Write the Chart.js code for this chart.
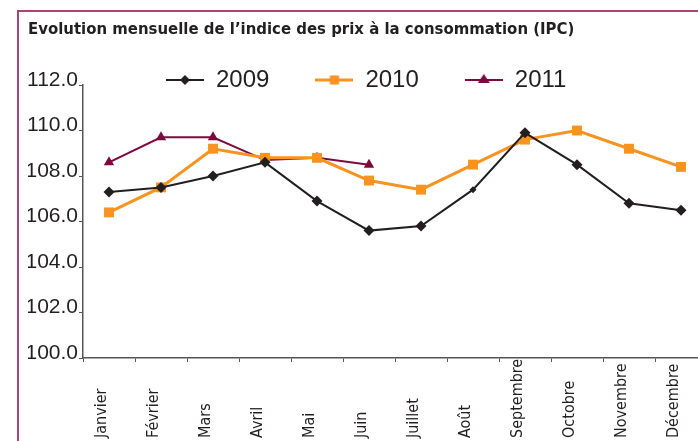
<!DOCTYPE html>
<html>
<head>
<meta charset="utf-8">
<script src="https://cdn.jsdelivr.net/npm/chart.js@4/dist/chart.umd.min.js"></script>
<style>
  html, body { margin: 0; padding: 0; background: #fff; overflow: hidden; }
  #wrap { position: relative; width: 698px; height: 441px; overflow: hidden; }
  #frame { position: absolute; left: 17px; top: 10px; width: 760px; height: 500px;
           border: 2px solid #a9447a; box-sizing: border-box; }
  #c { position: absolute; left: 0; top: 0; }
</style>
</head>
<body>
<div id="wrap">
  <div id="frame"></div>
  <canvas id="c" width="720" height="441"></canvas>
</div>
<script>
// données
const mois = ['Janvier', 'Février', 'Mars', 'Avril', 'Mai', 'Juin',
              'Juillet', 'Août', 'Septembre', 'Octobre', 'Novembre', 'Décembre'];
const ipc2009 = [107.3, 107.5, 108.0, 108.6, 106.9, 105.6, 105.8, 107.4, 109.9, 108.5, 106.8, 106.5];
const ipc2010 = [106.4, 107.5, 109.2, 108.8, 108.8, 107.8, 107.4, 108.5, 109.6, 110.0, 109.2, 108.4];
const ipc2011 = [108.6, 109.7, 109.7, 108.7, 108.8, 108.5];
const yTicks = [100, 102, 104, 106, 108, 110, 112];

const NARROW = "'Liberation Sans Narrow', 'DejaVu Sans Condensed', sans-serif";
const SANS = "'Liberation Sans', Arial, sans-serif";

// petite icône "ligne + marqueur" pour la légende
function legendIcon(color, style, lineW) {
    const c = document.createElement('canvas');
    c.width = 38; c.height = 16;
    const g = c.getContext('2d');
    g.strokeStyle = color;
    g.lineWidth = lineW;
    g.beginPath(); g.moveTo(0, 8); g.lineTo(38, 8); g.stroke();
    g.fillStyle = color;
    g.beginPath();
    if (style === 'rectRot') {
        g.moveTo(19, 3); g.lineTo(24, 8); g.lineTo(19, 13); g.lineTo(14, 8);
    } else if (style === 'rect') {
        g.rect(14.5, 3.5, 9, 9);
    } else {
        g.moveTo(19, 2); g.lineTo(25, 11); g.lineTo(13, 11);
    }
    g.closePath();
    g.fill();
    return c;
}

// recale la légende et aligne les mois en bas
const ajustements = {
    id: 'ajustements',
    afterLayout(chart) {
        const lg = chart.legend;
        const pad = lg.options.labels.padding;
        lg.top = 68 - pad;
        lg.bottom = lg.top + 2 * pad + 30;
        lg.left = 166 - pad;

        const sx = chart.scales.x;
        sx.getLabelItems().forEach(it => {
            it.options.textAlign = 'left';
            it.options.translation = [it.options.translation[0] - 7, sx.bottom - 3];
        });
    }
};

const series = [
    { label: '2009', data: ipc2009, color: '#231f20', style: 'rectRot', width: 2, radius: 5.5 },
    { label: '2010', data: ipc2010, color: '#f7931e', style: 'rect', width: 3, radius: 7 },
    { label: '2011', data: ipc2011, color: '#7d0a3f', style: 'triangle', width: 2, radius: 6 }
];

new Chart(document.getElementById('c'), {
    type: 'line',
    data: {
        labels: mois,
        datasets: series.map(s => ({
            label: s.label,
            data: s.data,
            borderColor: s.color,
            backgroundColor: s.color,
            borderWidth: s.width,
            pointStyle: s.style,
            pointRadius: s.label === '2009' ? (ctx => ctx.dataIndex === 7 ? 3.5 : s.radius) : s.radius,
            pointBorderWidth: 0,
            tension: 0,
            fill: false
        }))
    },
    options: {
        responsive: false,
        animation: false,
        layout: { padding: { left: 28, right: 13, top: 0, bottom: 0 } },
        plugins: {
            title: {
                display: true,
                text: 'Evolution mensuelle de l’indice des prix à la consommation (IPC)',
                align: 'start',
                color: '#231f20',
                font: { family: NARROW, size: 16.6, weight: 'bold', lineHeight: 1.2 },
                padding: { top: 20, bottom: 44.1 }
            },
            legend: {
                position: 'top',
                align: 'start',
                maxHeight: 1,
                labels: {
                    usePointStyle: true,
                    pointStyleWidth: 38,
                    padding: 46,
                    color: '#231f20',
                    font: { family: SANS, size: 24 },
                    generateLabels: chart => series.map((s, i) => ({
                        text: s.label,
                        datasetIndex: i,
                        fontColor: '#231f20',
                        pointStyle: legendIcon(s.color, s.style, s.width),
                        hidden: false
                    }))
                }
            },
            tooltip: { enabled: false }
        },
        scales: {
            x: {
                offset: true,
                grid: { offset: true, drawOnChartArea: false, drawTicks: true, tickLength: 4, color: '#555' },
                border: { color: '#555', width: 1.5 },
                ticks: {
                    autoSkip: false, minRotation: 90, maxRotation: 90, padding: 2,
                    color: '#231f20', font: { family: NARROW, size: 16 }
                },
                afterFit: s => { s.height = 83; }
            },
            y: {
                min: 100, max: 112,
                grid: { drawOnChartArea: false, drawTicks: true, tickLength: 4, color: '#555' },
                border: { color: '#555', width: 1.5 },
                afterBuildTicks: s => { s.ticks = yTicks.map(v => ({ value: v })); },
                ticks: {
                    padding: 1, labelOffset: -5,
                    color: '#231f20', font: { family: SANS, size: 21 },
                    callback: v => v.toFixed(1)
                },
                afterFit: s => { s.width = 55; }
            }
        }
    },
    plugins: [ajustements]
});
</script>
</body>
</html>
